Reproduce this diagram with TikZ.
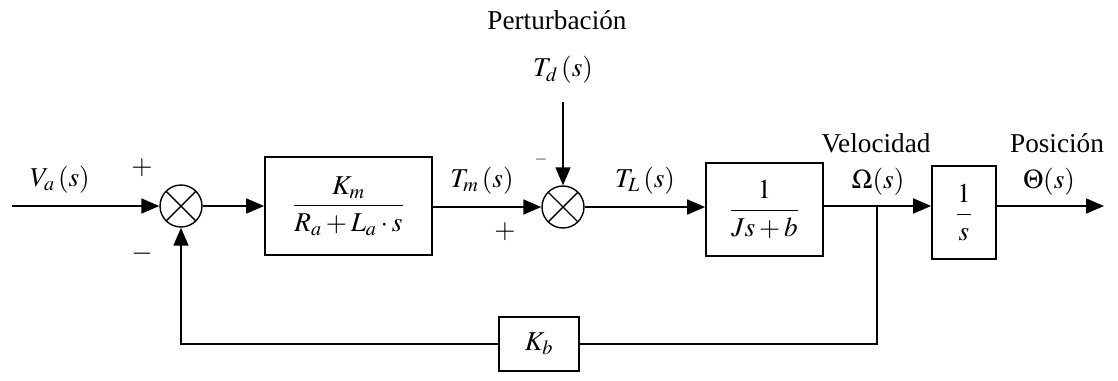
\documentclass[tikz,border=0pt]{standalone}
\usepackage{amsmath}
\usepackage{mathptmx}
\usepackage{fontspec}
\setmainfont{Liberation Serif}
\usepackage{tikz}
\usetikzlibrary{arrows.meta,positioning}

\begin{document}
\begin{tikzpicture}[x=0.02cm,y=-0.02cm,font=\fontsize{15.5}{18}\selectfont]
  \tikzset{blk/.style={draw,line width=1pt,inner sep=2pt,minimum width=#1},
    sumj/.style={draw,circle,line width=0.8pt,minimum size=0.84cm,inner sep=0pt,
      path picture={\draw[line width=0.8pt] (path picture bounding box.south west) -- (path picture bounding box.north east)
        (path picture bounding box.north west) -- (path picture bounding box.south east);}},
    sig/.style={line width=1pt,-{Triangle[length=3.6mm,width=3mm]}},
    wire/.style={line width=1pt}}
  \useasboundingbox (0,0) rectangle (1118,380);
  % forward path
  \coordinate (in) at (12,206);
  \node[sumj] (sum1) at (181,206) {};
  \node[blk=3.34cm,minimum height=1.96cm] (motor) at (348.5,206) {$\dfrac{K_m}{R_a+L_a\cdot s}$};
  \node[sumj] (sum2) at (563,207) {};
  \node[blk=2.34cm,minimum height=1.86cm] (load) at (764.5,209.5) {$\dfrac{1}{Js+b}$};
  \node[blk=1.28cm,minimum height=1.86cm] (integ) at (964,212.5) {$\dfrac{1}{s}$};
  \coordinate (out) at (1104,206);
  \coordinate (br) at (877,206);
  % feedback
  \node[blk=1.6cm,minimum height=1.08cm] (kb) at (539,344) {$K_b$};
  % disturbance
  \node (pert) at (557,20) {Perturbación};
  \node (td) at (563,70) {$T_d\,(s)$};
  \coordinate (tdin) at (563,102);

  \draw[sig] (in) -- (sum1.west);
  \draw[sig] (sum1.east) -- (sum1 -| motor.west);
  \draw[sig] (motor.east |- sum2) -- (sum2.west);
  \draw[sig] (tdin) -- (sum2.north);
  \draw[sig] (sum2.east) -- (sum2 -| load.west);
  \draw[sig] (load.east |- br) -- (br -| integ.west);
  \draw[sig] (integ.east |- out) -- (out);
  \draw[wire] (br) -- (br |- kb) -- (kb.east);
  \draw[sig] (kb.west) -| (sum1.south);

  % signal labels and signs
  \node (va) at (60,180) {$V_a\,(s)$};
  \node (p1) at (142,168) {$+$};
  \node (m1) at (142,254) {$-$};
  \node (tm) at (482,181) {$T_m\,(s)$};
  \node (p2) at (505,232) {$+$};
  \node[font=\small] (m2) at (541,160) {$-$};
  \node (tl) at (645,181) {$T_L\,(s)$};
  \node (vel) at (876,143) {Velocidad};
  \node (om) at (878,182) {$\Omega(s)$};
  \node (pos) at (1057,143) {Posición};
  \node (th) at (1049,182) {$\Theta(s)$};
\end{tikzpicture}
\end{document}
